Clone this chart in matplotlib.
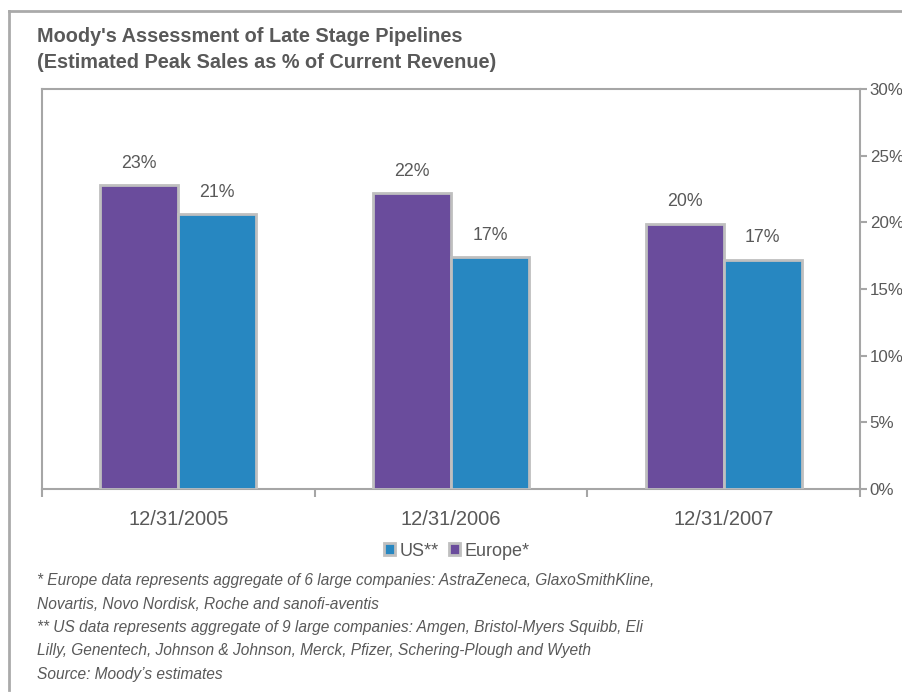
import matplotlib
matplotlib.use('Agg')
import matplotlib.pyplot as plt
import numpy as np
from matplotlib.lines import Line2D

# Данные
dates = ['12/31/2005', '12/31/2006', '12/31/2007']
europe = [22.8, 22.2, 19.9]
us = [20.6, 17.4, 17.2]
europe_labels = ['23%', '22%', '20%']
us_labels = ['21%', '17%', '17%']
y_ticks = [0, 5, 10, 15, 20, 25, 30]

plt.rcParams['font.family'] = ['Liberation Sans', 'DejaVu Sans']

grey_text = '#595959'
grey_line = '#A6A6A6'
purple = '#6A4C9C'
blue = '#2787C1'

fig = plt.figure(figsize=(9.03, 6.92), dpi=100)
W, H = 903, 692

# Внешняя рамка
fig.add_artist(Line2D([9.5 / W, 1], [1 - 11 / H, 1 - 11 / H], color='#AAAAAA', lw=2))
fig.add_artist(Line2D([9.5 / W, 9.5 / W], [1 - 11 / H, 1 - 690 / H], color='#AAAAAA', lw=2))

fig.text(37 / W, 1 - 37 / H, "Moody's Assessment of Late Stage Pipelines",
         fontsize=14.3, fontweight='bold', color=grey_text, va='center')
fig.text(37 / W, 1 - 63 / H, "(Estimated Peak Sales as % of Current Revenue)",
         fontsize=14.3, fontweight='bold', color=grey_text, va='center')

ax = fig.add_axes([42 / W, 1 - 489 / H, 818 / W, 400 / H])

x = np.arange(len(dates))
w = 0.286
b1 = ax.bar(x - w / 2, europe, w, color=purple, edgecolor='#BFBFBF', linewidth=2, label='Europe*', zorder=3)
b2 = ax.bar(x + w / 2, us, w, color=blue, edgecolor='#BFBFBF', linewidth=2, label='US**', zorder=3)

for rect, lab in zip(b1, europe_labels):
    ax.text(rect.get_x() + rect.get_width() / 2, rect.get_height() + 1.0, lab,
            ha='center', va='bottom', fontsize=12.8, color=grey_text)
for rect, lab in zip(b2, us_labels):
    ax.text(rect.get_x() + rect.get_width() / 2, rect.get_height() + 1.0, lab,
            ha='center', va='bottom', fontsize=12.8, color=grey_text)

ax.set_xlim(-0.5, 2.5)
ax.set_ylim(0, 30)
ax.yaxis.tick_right()
ax.set_yticks(y_ticks)
ax.set_yticklabels([f'{v}%' for v in y_ticks])
ax.set_xticks(x)
ax.set_xticklabels(dates)
ax.set_xticks([-0.5, 0.5, 1.5, 2.5], minor=True)
ax.tick_params(axis='x', which='major', length=0, pad=15, labelsize=14.5, labelcolor=grey_text)
ax.tick_params(axis='x', which='minor', length=6, color=grey_line, width=1.5)
ax.tick_params(axis='y', length=5, color=grey_line, width=1.5, labelsize=12.2,
               labelcolor=grey_text, pad=2)
for s in ax.spines.values():
    s.set_color(grey_line)
    s.set_linewidth(1.5)

handles = [b2, b1]
leg = fig.legend(handles, ['US**', 'Europe*'], loc='center', bbox_to_anchor=(457 / W, 1 - 551 / H),
                 ncol=2, frameon=False, fontsize=13, handlelength=0.6, handleheight=0.6,
                 handletextpad=0.25, columnspacing=0.6, labelcolor=grey_text)

notes = ["* Europe data represents aggregate of 6 large companies: AstraZeneca, GlaxoSmithKline,",
         "Novartis, Novo Nordisk, Roche and sanofi-aventis",
         "** US data represents aggregate of 9 large companies: Amgen, Bristol-Myers Squibb, Eli",
         "Lilly, Genentech, Johnson & Johnson, Merck, Pfizer, Schering-Plough and Wyeth",
         "Source: Moody\u2019s estimates"]
for i, line in enumerate(notes):
    fig.text(37 / W, 1 - (581 + i * 23.3) / H, line, fontsize=11.2, style='italic',
             color=grey_text, va='center')

plt.savefig('out.png', dpi=100)
